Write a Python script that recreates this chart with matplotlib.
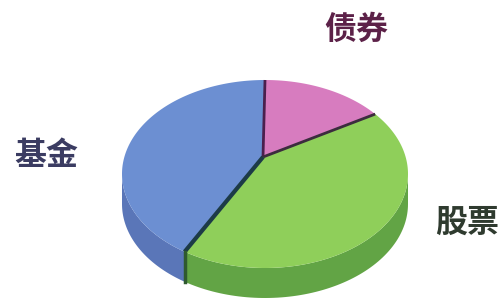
import numpy as np
import matplotlib.pyplot as plt
from matplotlib.patches import Polygon

plt.rcParams['font.family'] = ['Noto Sans CJK SC', 'DejaVu Sans']

# data
labels = ['债券', '股票', '基金']
values = [14, 45.5, 40.5]
top_colors = ['#d77cbf', '#8fcf5a', '#6c8fd2']
side_colors = ['#a85a93', '#62a445', '#5a76b8']
label_colors = ['#5c2148', '#2f3b2f', '#3b3c62']
label_pos = [(356, 30), (467, 223), (46, 156)]
edge_colors = ['#4b1f4d', '#3c2c3e', '#1d3b47']

# geometry of the fake 3d pie (pixel coordinates)
cx, cy = 265, 174
a, b = 143, 94
depth = 30
apex = (263, 157)


def ell(t):
    t = np.radians(t)
    return cx + a * np.sin(t), cy - b * np.cos(t)


fig = plt.figure(figsize=(5.0, 3.01), dpi=100)
ax = fig.add_axes([0, 0, 1, 1])
ax.set_xlim(0, 500)
ax.set_ylim(301, 0)
ax.axis('off')

frac = np.array(values) / sum(values)
bounds = np.concatenate([[0], np.cumsum(frac) * 360])

# side walls (only front half visible)
for i in range(len(values)):
    t1, t2 = max(bounds[i], 90), min(bounds[i + 1], 270)
    if t2 <= t1:
        continue
    ts = np.linspace(t1, t2, 80)
    xs, ys = ell(ts)
    pts = list(zip(xs, ys)) + list(zip(xs[::-1], ys[::-1] + depth))
    ax.add_patch(Polygon(pts, closed=True, fc=side_colors[i], ec='none'))

# top faces
for i in range(len(values)):
    ts = np.linspace(bounds[i], bounds[i + 1], 120)
    xs, ys = ell(ts)
    pts = [apex] + list(zip(xs, ys))
    ax.add_patch(Polygon(pts, closed=True, fc=top_colors[i], ec='none'))

# slice separators
for k, t in enumerate(bounds[:-1]):
    x, y = ell(t)
    lw = 3 if k == 2 else 2
    ax.plot([apex[0], x], [apex[1], y], color=edge_colors[k], lw=lw,
            solid_capstyle='butt')
    if 90 < t < 270:
        ax.plot([x, x], [y, y + depth], color='#2f5a2f', lw=2.5)

for lab, (x, y), c in zip(labels, label_pos, label_colors):
    ax.text(x, y, lab, color=c, fontsize=23, fontweight='bold',
            ha='center', va='center')

fig.savefig('out.png', dpi=100)
